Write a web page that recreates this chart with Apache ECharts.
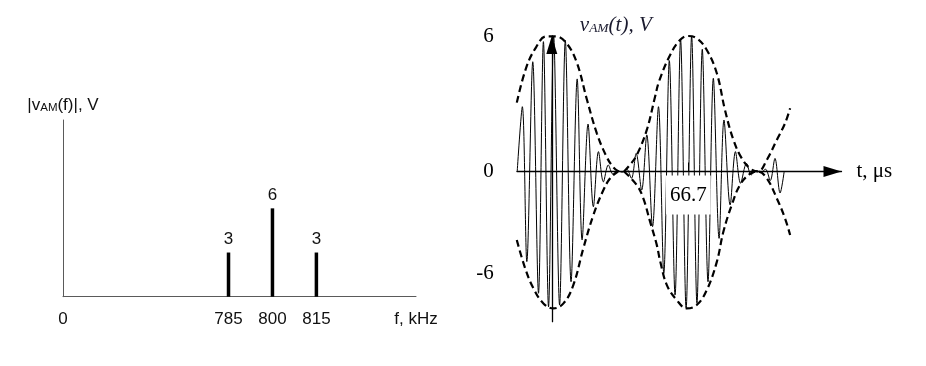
<!DOCTYPE html>
<html>
<head>
<meta charset="utf-8">
<script src="https://cdn.jsdelivr.net/npm/echarts@6/dist/echarts.min.js"></script>
<style>
html,body{margin:0;padding:0;background:#fff;}
#chart{width:926px;height:366px;}
</style>
</head>
<body>
<div id="chart"></div>
<script>
// ---------- Left: amplitude spectrum ----------
const freqKHz = [785, 800, 815];
const ampV = [3, 6, 3];
const freqTickLabels = ['0', '785', '800', '815'];

// ---------- Right: AM waveform ----------
// carrier extrema (t in µs, v in V)
const waveT = [-16.9, -14.4, -12.2, -9.3, -6.5, -4.1, -1.6, 0.9, 3.8, 6.6, 9.4, 12.4, 14.8, 17.7, 20.3, 22.8, 25.2, 27.6, 29.9, 32.1, 34.4, 36.6, 38.9, 41.2, 43.9, 46.4, 49.2, 52.1, 54.7, 57.4, 60.2, 62.9, 65.6, 68.3, 70.9, 73.5, 76.3, 78.9, 81.7, 84.1, 87.1, 89.7, 92.2, 95.1, 97.4, 99.8, 102.1, 104.4, 106.7, 109.0, 111.5, 113.5];
const waveV = [0, 2.87, -3.99, 4.86, -5.39, 5.75, -5.99, 6.0, -5.91, 5.8, -4.88, 4.1, -3.03, 2.1, -1.56, 0.88, -0.46, 0.29, -0.12, 0.04, -0.03, 0.1, -0.3, 0.8, -0.82, 1.62, -2.44, 2.87, -4.51, 4.91, -5.47, 5.85, -6.06, 6.0, -5.84, 5.41, -4.88, 4.13, -2.96, 2.28, -1.48, 0.88, -0.52, 0.36, -0.15, 0.04, -0.03, 0.1, -0.4, 0.58, -0.95, 0];

// dashed envelopes (null = break)
const envUpperT = [-17.1, -12.5, -7.7, -2.8, 2.1, 7.0, 12.1, 17.1, 22.0, 26.5, 29.9, 32.6, null, 35.3, 38.2, 41.5, 46.4, 50.4, 52.6, 57.8, 62.6, 66.7, 70.8, 75.7, 80.6, 84.6, 88.7, 92.8, 96.8, 100.7, 105.0, 109.9, 113.9, 116.4];
const envUpperV = [3.05, 4.6, 5.5, 5.98, 5.98, 5.7, 4.85, 3.2, 1.69, 0.7, 0.2, 0, null, 0, 0.3, 0.73, 1.84, 3.3, 4.05, 5.16, 5.82, 6.0, 5.9, 5.38, 4.35, 2.72, 1.4, 0.58, 0.14, 0, 0.51, 1.4, 2.13, 2.8];
const envLowerT = [-17.1, -13.0, -9.0, -4.1, 0.8, 5.7, 10.5, 15.4, 20.3, 25.2, 28.5, 32.3, null, 35.3, 41.5, 44.7, 48.0, 51.3, 53.0, 56.2, 61.0, 65.9, 70.8, 75.7, 80.6, 83.8, 87.9, 91.9, 96.8, 100.7, 105.0, 109.9, 113.9, 116.4];
const envLowerV = [-3.03, -4.29, -5.17, -5.84, -6.06, -5.84, -5.03, -3.4, -1.93, -0.82, -0.3, 0, null, 0, -0.6, -1.19, -2.22, -3.26, -4.0, -5.03, -5.69, -6.06, -5.91, -5.25, -4.0, -2.67, -1.48, -0.6, -0.1, 0, -0.3, -1.19, -2.07, -2.81];

const voltTicks = [6, 0, -6];
const timeTicks = [66.7];

// ---------- build ----------
const SANS = 'Liberation Sans, Arial, Helvetica, sans-serif';
const SERIF = 'Liberation Serif, "Times New Roman", Times, serif';
const F_MIN = 728.5, F_MAX = 849;
const freqTickValues = [F_MIN].concat(freqKHz);

// right panel geometry
const T_MIN = -17, T_MAX = 141.5, V_MIN = -6.65, V_MAX = 6;
const G2 = {left: 517, top: 36, width: 324.5, height: 285.7};
// place axes through the origin (labels follow the axes)
const xOffset = -G2.height * (0 - V_MIN) / (V_MAX - V_MIN);
const yOffset = -G2.width * (0 - T_MIN) / (T_MAX - T_MIN);

function pairs(ts, vs) {
  return ts.map((t, i) => (t === null || vs[i] === null) ? '-' : [t, vs[i]]);
}

const chart = echarts.init(document.getElementById('chart'), null, {renderer: 'canvas'});
chart.setOption({
  animation: false,
  backgroundColor: '#fff',
  grid: [
    {left: 63, top: 120, width: 353, height: 176.7, outerBoundsMode: 'none', containLabel: false},
    Object.assign({outerBoundsMode: 'none', containLabel: false}, G2)
  ],
  xAxis: [
    {
      gridIndex: 0, type: 'value', min: F_MIN, max: F_MAX,
      axisLine: {show: true, onZero: true, lineStyle: {color: '#5a5a5a', width: 1}},
      axisTick: {show: false},
      splitLine: {show: false},
      axisLabel: {
        customValues: freqTickValues,
        formatter: v => freqTickLabels[freqTickValues.indexOf(v)],
        margin: 14, fontSize: 17, fontFamily: SANS, color: '#111'
      },
      name: 'f, kHz', nameLocation: 'end', nameGap: 0,
      nameTextStyle: {align: 'center', verticalAlign: 'top', padding: [14, 0, 0, 0], fontSize: 17, fontFamily: SANS, color: '#111'}
    },
    {
      gridIndex: 1, type: 'value', min: T_MIN, max: T_MAX, z: 5,
      position: 'bottom', offset: xOffset,
      axisLine: {show: true, onZero: false, symbol: ['none', 'triangle'], symbolSize: [11, 18], symbolOffset: [0, -9],
        lineStyle: {color: '#000', width: 1.3}},
      axisTick: {show: true, customValues: timeTicks, inside: true, length: 9, lineStyle: {color: '#000', width: 1}},
      splitLine: {show: false},
      axisLabel: {
        customValues: timeTicks,
        margin: 4, fontSize: 21, fontFamily: SERIF, color: '#000',
        backgroundColor: '#fff', padding: [9, 4, 9, 4]
      },
      name: 't, \u03bcs', nameLocation: 'end', nameGap: 15,
      nameTextStyle: {fontSize: 21, fontFamily: SERIF, color: '#000', verticalAlign: 'middle'}
    }
  ],
  yAxis: [
    {
      gridIndex: 0, type: 'value', min: 0, max: 12,
      axisLine: {show: true, lineStyle: {color: '#5a5a5a', width: 1}},
      axisTick: {show: false}, axisLabel: {show: false}, splitLine: {show: false},
      name: '|v{s|AM}(f)|, V', nameLocation: 'end', nameGap: 15,
      nameTextStyle: {
        fontSize: 17, fontFamily: SANS, color: '#111', align: 'center', verticalAlign: 'middle',
        rich: {s: {fontSize: 11.5, fontFamily: SANS, color: '#111', padding: [5, 0, 0, 0]}}
      }
    },
    {
      gridIndex: 1, type: 'value', min: V_MIN, max: V_MAX, z: 5,
      position: 'left', offset: yOffset,
      axisLine: {show: true, onZero: false, symbol: ['none', 'triangle'], symbolSize: [11, 18], symbolOffset: [0, -9],
        lineStyle: {color: '#000', width: 1.3}},
      axisTick: {show: false}, splitLine: {show: false},
      axisLabel: {
        customValues: voltTicks,
        formatter: v => v < 0 ? '{n|' + v + '}' : '{p|' + v + '}',
        margin: 58,
        rich: {
          p: {fontSize: 21, fontFamily: SERIF, color: '#000'},
          n: {fontSize: 21, fontFamily: SERIF, color: '#000', padding: [0, 0, 68, 0]}
        }
      },
      name: '{i|v}{s|AM}{i|(t), V}', nameLocation: 'end', nameGap: 11,
      nameTextStyle: {
        align: 'left', verticalAlign: 'middle', padding: [0, 0, 0, 28],
        fontSize: 21, fontFamily: SERIF, fontStyle: 'italic', color: '#111',
        rich: {
          i: {fontSize: 21, fontFamily: SERIF, fontStyle: 'italic', color: '#1a1a2e'},
          s: {fontSize: 13.5, fontFamily: SERIF, fontStyle: 'italic', color: '#1a1a2e', padding: [7, 0, 0, 0]}
        }
      }
    }
  ],
  series: [
    {
      type: 'bar', xAxisIndex: 0, yAxisIndex: 0,
      data: freqKHz.map((f, i) => [f, ampV[i]]),
      barWidth: 3.5,
      itemStyle: {color: '#000'},
      label: {show: true, position: 'top', distance: 5, fontSize: 17, fontFamily: SANS, color: '#111'},
      silent: true
    },
    {
      type: 'line', xAxisIndex: 1, yAxisIndex: 1,
      data: pairs(waveT, waveV),
      smooth: 0.33, symbol: 'none', clip: false, silent: true,
      lineStyle: {color: '#000', width: 1}, z: 3
    },
    {
      type: 'line', xAxisIndex: 1, yAxisIndex: 1,
      data: pairs(envUpperT, envUpperV),
      smooth: 0.4, symbol: 'none', connectNulls: false, clip: false, silent: true,
      lineStyle: {color: '#000', width: 2.2, type: [7, 4]}, z: 4
    },
    {
      type: 'line', xAxisIndex: 1, yAxisIndex: 1,
      data: pairs(envLowerT, envLowerV),
      smooth: 0.4, symbol: 'none', connectNulls: false, clip: false, silent: true,
      lineStyle: {color: '#000', width: 2.2, type: [7, 4]}, z: 4
    }
  ]
});
</script>
</body>
</html>
